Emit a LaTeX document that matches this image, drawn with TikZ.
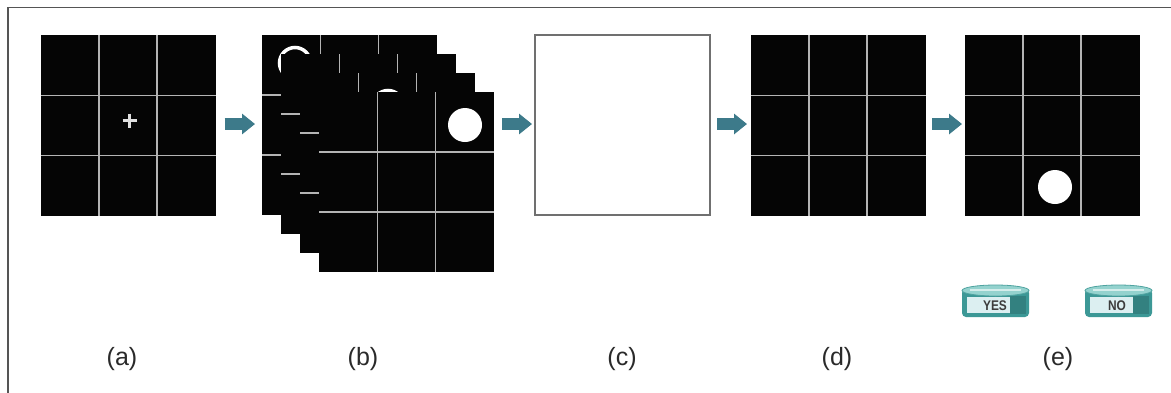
\documentclass[tikz,border=0pt]{standalone}
\usepackage{fontspec}
\setmainfont{Liberation Sans}
\usetikzlibrary{calc,arrows.meta}
\definecolor{arrowc}{HTML}{3D7A8A}
\definecolor{panelblack}{HTML}{050505}
\definecolor{gridc}{HTML}{B4B4B4}
\definecolor{framec}{HTML}{555555}
\definecolor{boxc}{HTML}{707070}
\definecolor{lblc}{HTML}{2A2A2A}
\definecolor{btnside}{HTML}{3C9896}
\definecolor{btntop}{HTML}{94D2CE}
\definecolor{btnedge}{HTML}{4FA3A0}
\definecolor{btnlabel}{HTML}{DCEFF1}
\definecolor{btntextc}{HTML}{3C3C3C}
\newcommand\gridlines[1]{%
  \foreach \f in {0.3333,0.6667}{%
    \draw[gridline] ($(#1.north west)!\f!(#1.north east)$) -- ($(#1.south west)!\f!(#1.south east)$);
    \draw[gridline] ($(#1.north west)!\f!(#1.south west)$) -- ($(#1.north east)!\f!(#1.south east)$);
  }}
\newcommand\pushbutton[4]{% x0, name, text, text x offset
  \fill[btnside, rounded corners=4pt] (#1,289) rectangle ++(67,28);
  \fill[btnside!85!black] (#1+48,296) rectangle ++(16,18);
  \fill[btnlabel] (#1+5,297) rectangle ++(43,16);
  \filldraw[fill=btntop, draw=btnedge, line width=0.8pt] (#1+33.5,290.5) ellipse (33.5 and 5.5);
  \draw[white!60!btntop, line width=1.2pt] (#1+8,290) -- (#1+59,290);
  \node[btntext] (#2) at (#1+#4,305.5) {#3};
}
\begin{document}
\begin{tikzpicture}[x=1pt,y=-1pt,
  panel/.style={draw=none, fill=panelblack, minimum width=175pt, minimum height=181pt, inner sep=0pt, outer sep=0pt},
  sheet/.style={panel, minimum height=180pt},
  gridline/.style={draw=gridc, line width=1.6pt},
  dot/.style={circle, fill=white, draw=none, inner sep=0pt, minimum size=34pt},
  ring/.style={circle, fill=panelblack, draw=white, line width=3.5pt, inner sep=0pt, minimum size=31pt},
  blockarrow/.style={draw=arrowc, line width=12pt, line cap=butt, -{Triangle[length=13pt, width=20pt]}},
  lbl/.style={text=lblc, font=\fontsize{25}{28}\selectfont, inner sep=0pt},
  btntext/.style={text=btntextc, font=\bfseries\fontsize{14}{14}\selectfont, xscale=0.85, inner sep=0pt}]
\useasboundingbox (0,0) rectangle (1171,392);
\fill[white] (0,0) rectangle (1171,392);
\draw[framec, line width=1.5pt] (8,400) -- (8,7.7) -- (1180,7.7);

% (a)
\node[panel] (a) at (128,125.5) {};
\gridlines{a}
\draw[white!88!black, line width=2.5pt] (122.5,120.5) -- (136.5,120.5) (129.5,113.5) -- (129.5,127.5);

% (b) stack
\node[sheet] (s1) at (349.5,125) {};
\gridlines{s1}
\node[ring] (d1) at (295,63) {};
\node[sheet] (s2) at (368.5,144) {};
\gridlines{s2}
\node[sheet] (s3) at (387.5,163) {};
\gridlines{s3}
\node[ring] (d3) at (388,106) {};
\node[sheet] (s4) at (406.5,182) {};
\gridlines{s4}
\node[dot] (d4) at (465,125) {};

% (c)
\node[draw=boxc, line width=2pt, fill=white, minimum width=175pt, minimum height=180pt, inner sep=0pt, outer sep=0pt] (c) at (622.5,125) {};

% (d)
\node[panel] (d) at (838,125.5) {};
\gridlines{d}

% (e)
\node[panel] (e) at (1052,125.5) {};
\gridlines{e}
\node[dot] (de) at (1055,187) {};

% arrows
\draw[blockarrow] ($(a.east)+(9,-1.5)$) -- ($(s1.west)+(-7,-1)$);
\draw[blockarrow] ($(s4.east)+(8,-58)$) -- ($(c.west)+(-3,-1)$);
\draw[blockarrow] ($(c.east)+(7,-1)$) -- ($(d.west)+(-3.5,-1.5)$);
\draw[blockarrow] ($(d.east)+(6.5,-1.5)$) -- ($(e.west)+(-2.5,-1.5)$);

% buttons
\pushbutton{962}{yes}{YES}{33}
\pushbutton{1085}{no}{NO}{32}

% labels
\node[lbl] (la) at (122,359) {(a)};
\node[lbl] (lb) at (363,359) {(b)};
\node[lbl] (lc) at (622,359) {(c)};
\node[lbl] (ld) at (837,359) {(d)};
\node[lbl] (le) at (1058,359) {(e)};
\end{tikzpicture}
\end{document}
